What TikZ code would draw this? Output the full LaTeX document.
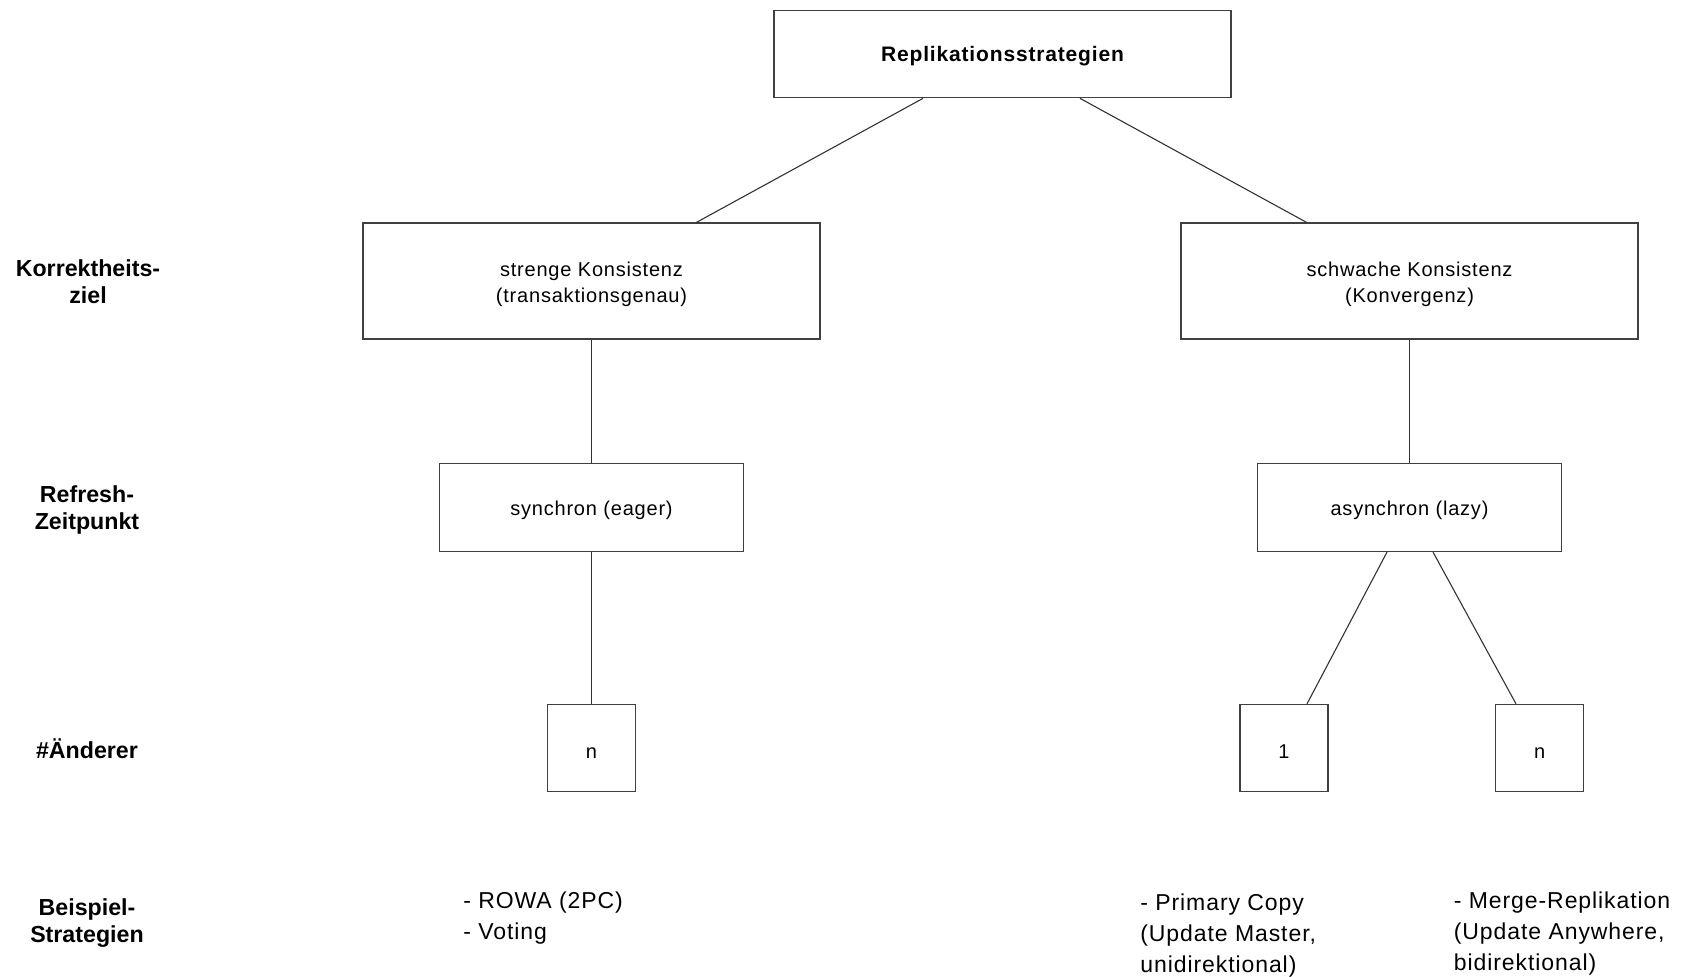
\documentclass[tikz,border=0pt]{standalone}
\usepackage{fontspec}
\setmainfont{Liberation Sans}
\newfontfamily\trackedfont[LetterSpace=4]{Liberation Sans}
\newcommand\firstlinestrut{\rule{0pt}{10.7pt}}
\begin{document}
\begin{tikzpicture}[x=0.5pt,y=-0.5pt,
  box/.style={draw=black!75, line width=0.65pt, fill=white, inner sep=0pt, align=center},
  wire/.style={draw=black!80, line width=0.55pt},
  lvl/.style={font=\fontsize{11.6}{13.5}\selectfont\bfseries, align=center, inner sep=0pt},
  ex/.style={font=\trackedfont\fontsize{11.5}{15.5}\selectfont, align=left, anchor=north west, inner sep=0pt},
  boxtext/.style={font=\trackedfont\fontsize{10}{13}\selectfont, execute at begin node={\rule{0pt}{10.5pt}}},
  wide/.style={minimum width=228.5pt, minimum height=58pt},
  mid/.style={minimum width=152.3pt, minimum height=44pt},
  small/.style={minimum width=44pt, minimum height=43.5pt}
]
\useasboundingbox (0,0) rectangle (1682,976);

% tree boxes
\node[box, minimum width=228.5pt, minimum height=43.5pt,
      font=\trackedfont\fontsize{10.5}{13}\selectfont\bfseries,
      execute at begin node={\rule{0pt}{9.8pt}}] (top) at (1002.5,54.2) {Replikationsstrategien};

\node[box, wide, boxtext] (strong) at (591.5,281) {\firstlinestrut strenge Konsistenz\\(transaktionsgenau)};
\node[box, wide, boxtext] (weak)   at (1409.5,281) {\firstlinestrut schwache Konsistenz\\(Konvergenz)};

\node[box, mid, boxtext] (sync)  at (591.5,507.4) {synchron (eager)};
\node[box, mid, boxtext] (async) at (1409.5,507.4) {asynchron (lazy)};

\node[box, small, boxtext] (syncn)  at (591.5,748) {n};
\node[box, small, boxtext] (async1) at (1284,748) {1};
\node[box, small, boxtext] (asyncn) at (1539.7,748) {n};

% connectors
\draw[wire] ([xshift=-39.75pt]top.south) -- ([xshift=52.5pt]strong.north);
\draw[wire] ([xshift=38.75pt]top.south) -- ([xshift=-51.5pt]weak.north);
\draw[wire] (strong.south) -- (sync.north);
\draw[wire] (weak.south) -- (async.north);
\draw[wire] (sync.south) -- (syncn.north);
\draw[wire] ([xshift=-11.25pt]async.south) -- ([xshift=11.5pt]async1.north);
\draw[wire] ([xshift=11.75pt]async.south) -- ([xshift=-11.85pt]asyncn.north);

% level captions
\node[lvl] (capgoal)    at (88,281.5) {Korrektheits-\\ziel};
\node[lvl] (caprefresh) at (87,510) {Refresh-\\Zeitpunkt};
\node[lvl] (capwriters) at (87,749) {\#Änderer};
\node[lvl] (capexample) at (87,923) {Beispiel-\\Strategien};

% example strategies
\node[ex] (exsync)   at (463,891) {- ROWA (2PC)\\- Voting};
\node[ex] (exasync1) at (1140,893) {- Primary Copy\\(Update Master,\\unidirektional)};
\node[ex] (exasyncn) at (1453.5,891) {- Merge-Replikation\\(Update Anywhere,\\bidirektional)};
\end{tikzpicture}
\end{document}
